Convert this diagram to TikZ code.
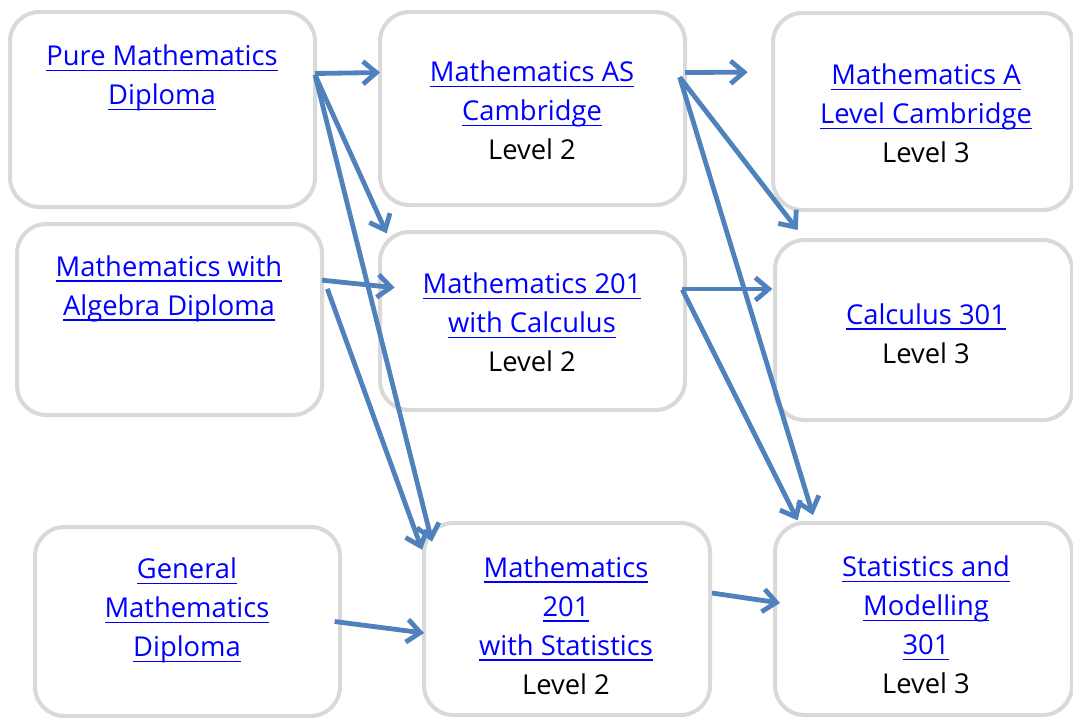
\documentclass[tikz,border=0pt]{standalone}
\usepackage{fontspec}
\setmainfont{Open Sans}
\usepackage{xcolor}
\usetikzlibrary{arrows.meta}
\definecolor{linkblue}{RGB}{0,0,255}
\definecolor{arrowblue}{RGB}{79,129,189}
\definecolor{boxgray}{RGB}{217,217,217}
\newsavebox{\lnkbox}
\newcommand{\lnk}[1]{\textcolor{linkblue}{\sbox{\lnkbox}{#1}\rlap{\rule[-4.2pt]{\wd\lnkbox}{1.2pt}}\usebox{\lnkbox}}}

\begin{document}
\begin{tikzpicture}[
    x=0.75pt, y=-0.75pt,
    box/.style={rectangle, rounded corners=22pt, draw=boxgray, line width=3pt,
                fill=white, outer sep=0pt},
    txt/.style={align=center, inner sep=0pt, font=\fontsize{20.5pt}{29.25pt}\selectfont},
    arrow/.style={-{Straight Barb[length=10pt,width=17pt]}, line width=3.6pt, color=arrowblue}
]
    \useasboundingbox (0,0) rectangle (1073,718);

    % boxes
    \node[box, minimum width=228.75pt, minimum height=146.25pt] (pure)  at (162.5,109.5) {};
    \node[box, minimum width=228.75pt, minimum height=143.25pt] (alg)   at (169.5,319.5) {};
    \node[box, minimum width=228.75pt, minimum height=141.75pt] (gen)   at (187.5,621.5) {};
    \node[box, minimum width=228.75pt, minimum height=144.75pt] (mas)   at (532.5,108.5) {};
    \node[box, minimum width=228.75pt, minimum height=133.5pt]  (m201c) at (532.5,321) {};
    \node[box, minimum width=214.5pt,  minimum height=144pt]    (m201s) at (567,619) {};
    \node[box, minimum width=224.25pt, minimum height=147.75pt] (mal)   at (922.5,111.5) {};
    \node[box, minimum width=222.75pt, minimum height=135pt]    (c301)  at (923.5,330) {};
    \node[box, minimum width=222.75pt, minimum height=144pt]    (sm301) at (923.5,619) {};

    % texts
    \node[txt] (pure-t)  at (162,78)   {\lnk{Pure Mathematics}\\\lnk{Diploma}};
    \node[txt] (alg-t)   at (169,288.5) {\lnk{Mathematics with}\\\lnk{Algebra Diploma}};
    \node[txt] (gen-t)   at (187,610.5) {\lnk{General}\\\lnk{Mathematics}\\\lnk{Diploma}};
    \node[txt] (mas-t)   at (532,110.5) {\lnk{Mathematics AS}\\\lnk{Cambridge}\\Level 2};
    \node[txt] (m201c-t) at (532,322.5) {\lnk{Mathematics 201}\\\lnk{with Calculus}\\Level 2};
    \node[txt] (m201s-t) at (566,625.5) {\lnk{Mathematics}\\\lnk{201}\\\lnk{with Statistics}\\Level 2};
    \node[txt] (mal-t)   at (926,113.5) {\lnk{Mathematics A}\\\lnk{Level Cambridge}\\Level 3};
    \node[txt] (c301-t)  at (926,333.5) {\lnk{Calculus 301}\\Level 3};
    \node[txt] (sm301-t) at (926,625)  {\lnk{Statistics and}\\\lnk{Modelling}\\\lnk{301}\\Level 3};

    % pathways
    \draw[arrow] ([yshift=27pt]pure.east) -- ([yshift=27pt]mas.west);
    \draw[arrow] ([yshift=26pt]pure.east) -- ([xshift=5pt,yshift=-1pt]m201c.north west);
    \draw[arrow] ([yshift=26pt]pure.east) -- ([xshift=6pt,yshift=-14pt]m201s.north west);
    \draw[arrow] ([yshift=29.5pt]alg.east) -- ([xshift=11pt,yshift=25pt]m201c.west);
    \draw[arrow] ([xshift=4pt,yshift=23pt]alg.east) -- ([xshift=-1.5pt,yshift=-20pt]m201s.north west);
    \draw[arrow] ([xshift=-4pt]gen.east) -- ([yshift=-10.5pt]m201s.west);
    \draw[arrow] ([yshift=27pt]mas.east) -- ([xshift=-19pt,yshift=29.5pt]mal.west);
    \draw[arrow] ([xshift=-4pt,yshift=23.5pt]mas.east) -- ([xshift=17pt,yshift=7.5pt]c301.north west);
    \draw[arrow] ([xshift=-4pt,yshift=23.5pt]mas.east) -- ([xshift=28.5pt,yshift=6pt]sm301.north west);
    \draw[arrow] ([xshift=-2pt,yshift=24pt]m201c.east) -- ([xshift=-2pt,yshift=30.75pt]c301.west);
    \draw[arrow] ([xshift=-2pt,yshift=23.5pt]m201c.east) -- ([xshift=17pt,yshift=2pt]sm301.north west);
    \draw[arrow] ([xshift=1.5pt,yshift=19.5pt]m201s.east) -- ([xshift=3.75pt,yshift=12pt]sm301.west);
\end{tikzpicture}
\end{document}
